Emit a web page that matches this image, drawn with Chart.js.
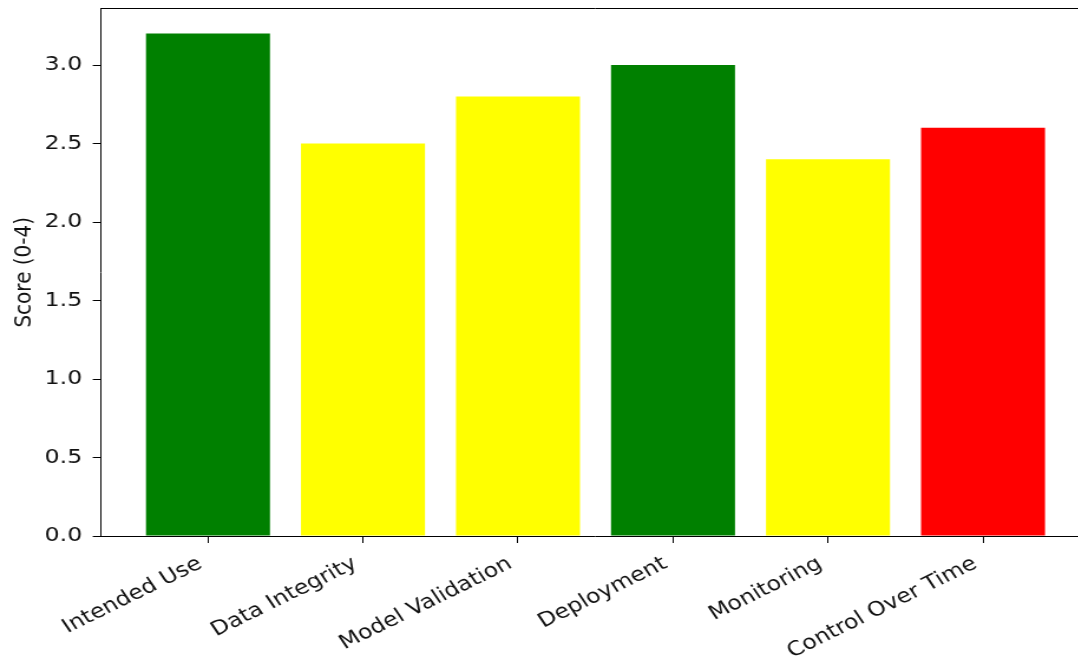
<!DOCTYPE html>
<html>
<head>
<meta charset="utf-8">
<script src="https://cdn.jsdelivr.net/npm/chart.js@4/dist/chart.umd.min.js"></script>
<style>
  html, body { margin: 0; padding: 0; background: #fff; overflow: hidden; }
  /* the figure is drawn narrower and widened horizontally */
  #wrap { width: 940px; height: 661px; transform: scaleX(1.18); transform-origin: 0 0; }
</style>
</head>
<body>
<div id="wrap"><canvas id="chart" width="940" height="661"></canvas></div>
<script>
// Review areas and their scores (0-4)
const categories = ['Intended Use', 'Data Integrity', 'Model Validation', 'Deployment', 'Monitoring', 'Control Over Time'];
const scores = [3.2, 2.5, 2.8, 3.0, 2.4, 2.6];
const barColors = ['green', 'yellow', 'yellow', 'green', 'yellow', 'red'];
const yTicks = [0, 0.5, 1.0, 1.5, 2.0, 2.5, 3.0];

const FONT = '"DejaVu Sans", sans-serif';
const INK = '#111';

// plain box frame: top and right edges of the plotting area
const frame = {
  id: 'frame',
  afterDraw(chart) {
    const { ctx, chartArea: a } = chart;
    ctx.save();
    ctx.strokeStyle = '#000';
    ctx.lineWidth = 1;
    ctx.beginPath();
    ctx.moveTo(a.left, a.top);
    ctx.lineTo(a.right, a.top);
    ctx.lineTo(a.right, a.bottom);
    ctx.stroke();
    ctx.restore();
  }
};

new Chart(document.getElementById('chart'), {
  type: 'bar',
  data: {
    datasets: [{
      data: scores.map((v, i) => ({ x: i, y: v })),
      backgroundColor: barColors,
      borderWidth: 0,
      categoryPercentage: 1.0,
      barPercentage: 0.8
    }]
  },
  options: {
    responsive: false,
    devicePixelRatio: 1,
    animation: false,
    layout: { padding: { left: 0, top: 8.5, right: 16.3, bottom: 0 } },
    plugins: { legend: { display: false }, tooltip: { enabled: false } },
    scales: {
      x: {
        type: 'linear',
        offset: false,
        min: -0.69,
        max: 5.69,
        afterBuildTicks(scale) { scale.ticks = categories.map((_, i) => ({ value: i })); },
        afterFit(scale) {
          scale.height = 125;
          scale.paddingLeft = 0; scale.paddingRight = 0;
          scale.paddingTop = 0; scale.paddingBottom = 0;
        },
        ticks: {
          autoSkip: false,
          minRotation: 30,
          maxRotation: 30,
          padding: 9,
          labelOffset: -6.5,
          color: INK,
          font: { family: FONT, size: 20 },
          callback: (v) => categories[v]
        },
        grid: { offset: false, drawOnChartArea: false, tickLength: 7, tickColor: '#000', tickWidth: 1 },
        border: { color: '#000', width: 1 }
      },
      y: {
        min: 0,
        max: 3.36,
        afterBuildTicks(scale) { scale.ticks = yTicks.map(v => ({ value: v })); },
        afterFit(scale) {
          scale.width = 85.6;
          scale.paddingTop = 0; scale.paddingBottom = 0;
          scale.paddingLeft = 0; scale.paddingRight = 0;
        },
        ticks: {
          padding: 9,
          color: INK,
          font: { family: FONT, size: 20 },
          callback: (v) => v.toFixed(1)
        },
        title: {
          display: true,
          text: 'Score (0-4)',
          color: INK,
          font: { family: FONT, size: 20 },
          padding: { top: 9, bottom: 4 }
        },
        grid: { drawOnChartArea: false, tickLength: 7, tickColor: '#000', tickWidth: 1 },
        border: { color: '#000', width: 1 }
      }
    }
  },
  plugins: [frame]
});
</script>
</body>
</html>
